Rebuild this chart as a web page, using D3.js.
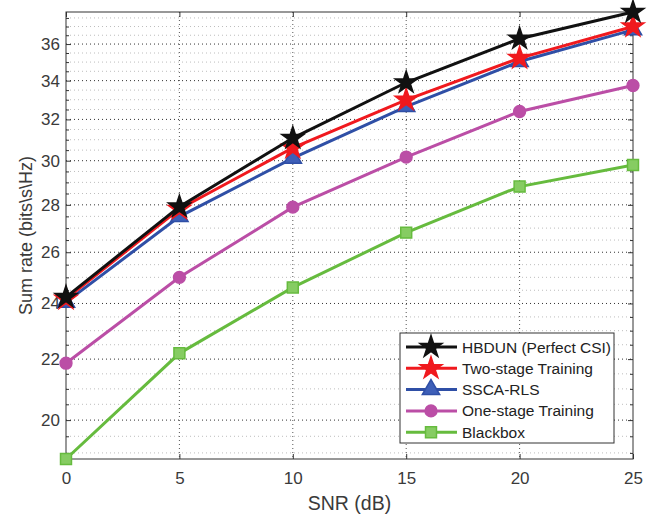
<!DOCTYPE html>
<html>
<head>
<meta charset="utf-8">
<script src="https://cdn.jsdelivr.net/npm/d3@7"></script>
<style>
  body { margin: 0; background: #fff; }
  svg { display: block; font-family: "Liberation Sans", Arial, sans-serif; }
</style>
</head>
<body>
<svg id="chart" width="651" height="516"></svg>
<script>
// dados
const snr = [0, 5, 10, 15, 20, 25];
const hbdun     = [24.24, 27.92, 31.08, 33.90, 36.30, 37.85];
const twoStage  = [24.17, 27.82, 30.61, 32.99, 35.22, 37.00];
const ssca      = [24.05, 27.49, 30.12, 32.65, 35.03, 36.81];
const oneStage  = [21.86, 25.00, 27.90, 30.17, 32.40, 33.74];
const blackbox  = [18.82, 22.20, 24.61, 26.81, 28.81, 29.80];

const nomes = ["HBDUN (Perfect CSI)", "Two-stage Training", "SSCA-RLS", "One-stage Training", "Blackbox"];
const yTicks = [20, 22, 24, 26, 28, 30, 32, 34, 36];
const xTicks = [0, 5, 10, 15, 20, 25];

const series = [
  { nome: nomes[0], valores: hbdun,    cor: "#111111", fill: "#111111", simbolo: d3.symbolStar,     tam: 150 },
  { nome: nomes[1], valores: twoStage, cor: "#f0191e", fill: "#f0191e", simbolo: d3.symbolStar,     tam: 150 },
  { nome: nomes[2], valores: ssca,     cor: "#2f4fa6", fill: "#3e5fb8", simbolo: d3.symbolTriangle, tam: 130 },
  { nome: nomes[3], valores: oneStage, cor: "#bb4ea6", fill: "#bb4ea6", simbolo: d3.symbolCircle,   tam: 110 },
  { nome: nomes[4], valores: blackbox, cor: "#66bb3e", fill: "#86cc62", simbolo: d3.symbolSquare,   tam: 120 }
];

const svg = d3.select("#chart");

const margin = { top: 12, right: 18, bottom: 57, left: 66 };
const W = 651, H = 516;
const w = W - margin.left - margin.right;
const h = H - margin.top - margin.bottom;

const todos = [].concat(hbdun, twoStage, ssca, oneStage, blackbox);

const x = d3.scaleLinear().domain([0, 25]).range([0, w]);
const y = d3.scaleLog().domain(d3.extent(todos)).range([h, 0]);

const g = svg.append("g").attr("transform", "translate(" + margin.left + "," + margin.top + ")");

// minor ticks a cada 0.5
const minors = d3.range(19, 38, 0.5).filter(v => yTicks.indexOf(v) < 0 && v >= y.domain()[0] && v <= y.domain()[1]);

// grade
g.selectAll("line.minor").data(minors).enter().append("line")
  .attr("x1", 0).attr("x2", w)
  .attr("y1", d => y(d)).attr("y2", d => y(d))
  .attr("stroke", "#bdbdbd").attr("stroke-width", 1).attr("stroke-dasharray", "1,3");

g.selectAll("line.major").data(yTicks).enter().append("line")
  .attr("x1", 0).attr("x2", w)
  .attr("y1", d => y(d)).attr("y2", d => y(d))
  .attr("stroke", "#333").attr("stroke-width", 1).attr("stroke-dasharray", "1,3");

g.selectAll("line.vgrid").data(xTicks.slice(1, -1)).enter().append("line")
  .attr("x1", d => x(d)).attr("x2", d => x(d))
  .attr("y1", 0).attr("y2", h)
  .attr("stroke", "#555").attr("stroke-width", 1).attr("stroke-dasharray", "1,3");

// eixos
const corEixo = "#333";
const corTexto = "#3a3a3a";
const eixoX = g.append("g").attr("transform", "translate(0," + h + ")")
  .call(d3.axisBottom(x).tickValues(xTicks).tickSize(-5).tickPadding(13).tickFormat(d3.format("d")));
const eixoXtop = g.append("g")
  .call(d3.axisTop(x).tickValues(xTicks).tickSize(-5).tickFormat(""));
const eixoY = g.append("g")
  .call(d3.axisLeft(y).tickValues(yTicks).tickSize(-5).tickPadding(6).tickFormat(d3.format("d")));
const eixoYr = g.append("g").attr("transform", "translate(" + w + ",0)")
  .call(d3.axisRight(y).tickValues(yTicks).tickSize(-5).tickFormat(""));
const eixoYmin = g.append("g")
  .call(d3.axisLeft(y).tickValues(minors).tickSize(-3).tickFormat(""));
const eixoYminR = g.append("g").attr("transform", "translate(" + w + ",0)")
  .call(d3.axisRight(y).tickValues(minors).tickSize(-3).tickFormat(""));

[eixoX, eixoXtop, eixoY, eixoYr, eixoYmin, eixoYminR].forEach(function(a) {
  a.select(".domain").remove();
  a.selectAll("line").attr("stroke", corEixo);
  a.selectAll("text").attr("fill", corTexto).style("font-size", "17px").style("font-family", "'Liberation Sans', Arial, sans-serif");
});

g.append("rect").attr("x", 0).attr("y", 0).attr("width", w).attr("height", h)
  .attr("fill", "none").attr("stroke", corEixo).attr("stroke-width", 1);

// linhas
const linha = d3.line().x((d, i) => x(snr[i])).y(d => y(d));

series.slice().reverse().forEach(function(s) {
  g.append("path").datum(s.valores)
    .attr("d", linha)
    .attr("fill", "none").attr("stroke", s.cor).attr("stroke-width", 3);
  g.selectAll(null).data(s.valores).enter().append("path")
    .attr("transform", (d, i) => "translate(" + x(snr[i]) + "," + y(d) + ")")
    .attr("d", d3.symbol().type(s.simbolo).size(s.tam))
    .attr("fill", s.fill).attr("stroke", s.cor).attr("stroke-width", 1.5);
});

// rotulos
svg.append("text").attr("x", margin.left + w / 2).attr("y", 510)
  .attr("text-anchor", "middle").attr("fill", corTexto).style("font-size", "19.5px")
  .text("SNR (dB)");
svg.append("text")
  .attr("transform", "translate(32," + (margin.top + h / 2) + ") rotate(-90)")
  .attr("text-anchor", "middle").attr("fill", corTexto).style("font-size", "18px")
  .text("Sum rate (bits\\s\\Hz)");

// legenda
const leg = svg.append("g").attr("transform", "translate(400,333)");
leg.append("rect").attr("width", 214).attr("height", 110)
  .attr("fill", "#fff").attr("stroke", "#333").attr("stroke-width", 1);
series.forEach(function(s, i) {
  const yy = 14 + i * 21.3;
  leg.append("line").attr("x1", 6).attr("x2", 57).attr("y1", yy).attr("y2", yy)
    .attr("stroke", s.cor).attr("stroke-width", 3);
  leg.append("path").attr("transform", "translate(31," + yy + ")")
    .attr("d", d3.symbol().type(s.simbolo).size(s.tam))
    .attr("fill", s.fill).attr("stroke", s.cor).attr("stroke-width", 1.5);
  leg.append("text").attr("x", 62).attr("y", yy + 5.5)
    .attr("fill", "#222").style("font-size", "15.5px").text(s.nome);
});
</script>
</body>
</html>
